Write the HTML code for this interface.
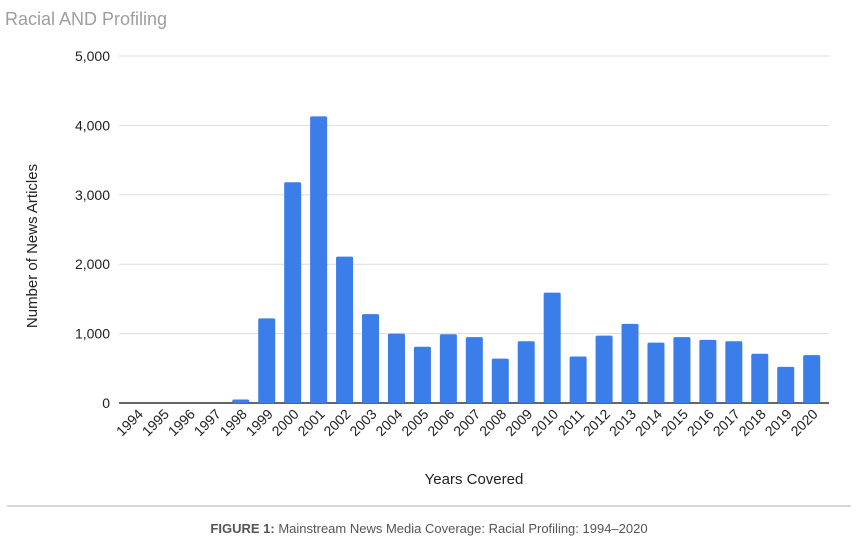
<!DOCTYPE html>
<html><head><meta charset="utf-8"><style>
body{margin:0;background:#fff;width:858px;height:542px;overflow:hidden;font-family:"Liberation Sans",sans-serif}
</style></head><body>
<svg width="858" height="542">
<text x="5" y="25" font-size="18" fill="#9e9e9e">Racial AND Profiling</text>
<g id="grid"></g>
<g id="bars"></g>
<g id="xl"></g>
<text transform="translate(37,246) rotate(-90)" text-anchor="middle" font-size="15" fill="#222">Number of News Articles</text>
<text x="474" y="484" text-anchor="middle" font-size="15" fill="#222">Years Covered</text>
<line x1="7" y1="506" x2="851" y2="506" stroke="#ccc" stroke-width="1.5"/>
<text x="429" y="533" text-anchor="middle" font-size="13" fill="#555"><tspan font-weight="bold">FIGURE 1:</tspan> Mainstream News Media Coverage: Racial Profiling: 1994–2020</text>
</svg>
<script>
const years=["1994","1995","1996","1997","1998","1999","2000","2001","2002","2003","2004","2005","2006","2007","2008","2009","2010","2011","2012","2013","2014","2015","2016","2017","2018","2019","2020"];
const counts=[0,0,0,0,50,1220,3180,4130,2110,1280,1000,810,990,950,640,890,1590,670,970,1140,870,950,910,890,710,520,690];
const yTicks=[0,1000,2000,3000,4000,5000];
const yTickLabels=["0","1,000","2,000","3,000","4,000","5,000"];
const NS="http://www.w3.org/2000/svg";
const x0=124,bw=25.95,y0=403,yTop=56,yMax=5000;
const y=v=>y0-(v/yMax)*(y0-yTop);
const xc=i=>x0+bw*(i+0.5);
function mk(t,a){const e=document.createElementNS(NS,t);for(const k in a)e.setAttribute(k,a[k]);return e;}
const g=document.getElementById('grid');
yTicks.forEach((v,i)=>{
  const l=mk('line',{x1:119,x2:829,y1:y(v),y2:y(v),stroke:v===0?'#333':'#ddd','stroke-width':v===0?1.5:1});
  
  
  g.appendChild(l);
  const t=mk('text',{x:110,y:y(v)+5,'text-anchor':'end','font-size':14,fill:'#222'});
  
  
  t.textContent=yTickLabels[i];g.appendChild(t);
});
const b=document.getElementById('bars'),xl=document.getElementById('xl');
years.forEach((yr,i)=>{
  const v=counts[i];
  if(v>0){
    const r=mk('rect',{x:xc(i)-8.5,y:y(v),width:17,height:y0-y(v),fill:'#3b7de9',rx:1.5});
    
    
    b.appendChild(r);
  }
  const t=mk('text',{transform:`translate(${xc(i)+7},${y0+12}) rotate(-45)`,'text-anchor':'end','font-size':14,fill:'#222'});
  
  
  t.textContent=yr;xl.appendChild(t);
});
</script>
</body></html>
